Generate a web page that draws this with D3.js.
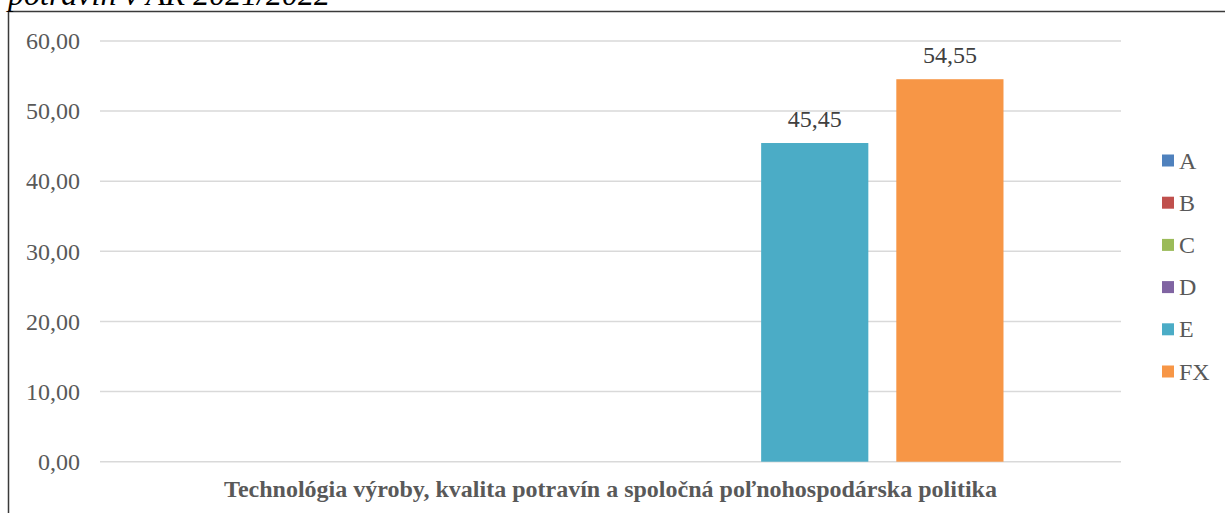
<!DOCTYPE html>
<html>
<head>
<meta charset="utf-8">
<script src="https://cdn.jsdelivr.net/npm/d3@7"></script>
<style>
  body { margin: 0; background: #fff; }
</style>
</head>
<body>
<div class="container"></div>
<script>
const w = 1225
const h = 513
const serif = "'Liberation Serif', 'Times New Roman', serif"

const categories = ["Technológia výroby, kvalita potravín a spoločná poľnohospodárska politika"]
const series = ["A", "B", "C", "D", "E", "FX"]
const values = [0, 0, 0, 0, 45.45, 54.55]
const colors = ["#4F81BD", "#C0504D", "#9BBB59", "#8064A2", "#4BACC6", "#F79646"]
const yTicks = [0, 10, 20, 30, 40, 50, 60]
const titleText = "potravín v AR 2021/2022"

const plot = { left: 100, right: 1121, top: 41, bottom: 461.7 }

const svg = d3.select(".container")
              .append("svg")
              .attr("width", w)
              .attr("height", h)

// frame of the chart area (only top and left edges are visible)
svg.append("path")
    .attr("d", `M8.5,${h} V11.5 H${w}`)
    .attr("fill", "none")
    .attr("stroke", "#3a3a3a")
    .attr("stroke-width", 1.5)

svg.append("text")
    .attr("x", 8)
    .attr("y", 5)
    .style("font-family", serif)
    .style("font-size", "32px")
    .style("font-style", "italic")
    .attr("fill", "#000")
    .text(titleText)

const yScale = d3.scaleLinear()
                .domain([0, 60])
                .range([plot.bottom, plot.top])

const x0 = d3.scaleBand()
            .domain(categories)
            .range([plot.left, plot.right])
            .paddingOuter(0.152)

const x1 = d3.scaleBand()
            .domain(series)
            .range([0, x0.bandwidth()])
            .paddingInner(0.207)

const fmt = v => d3.format(".2f")(v).replace(".", ",")

// gridlines
svg.append("g")
    .selectAll("line")
    .data(yTicks)
    .enter()
    .append("line")
      .attr("x1", plot.left)
      .attr("x2", plot.right)
      .attr("y1", d => yScale(d))
      .attr("y2", d => yScale(d))
      .attr("stroke", "#d9d9d9")
      .attr("stroke-width", 1.5)

const yAxis = d3.axisLeft(yScale)
                .tickValues(yTicks)
                .tickFormat(fmt)
                .tickSize(0)
                .tickPadding(20)

svg.append("g")
    .attr("id", "y-axis")
    .attr("transform", `translate(${plot.left}, 0)`)
    .call(yAxis)
    .call(g => g.select(".domain").remove())
    .selectAll("text")
      .style("font-family", serif)
      .style("font-size", "24px")
      .attr("fill", "#595959")

const xAxis = d3.axisBottom(x0).tickSize(0).tickPadding(18)

svg.append("g")
    .attr("id", "x-axis")
    .attr("transform", `translate(0, ${plot.bottom})`)
    .call(xAxis)
    .call(g => g.select(".domain").remove())
    .selectAll("text")
      .style("font-family", serif)
      .style("font-size", "24px")
      .style("font-weight", "bold")
      .attr("fill", "#595959")

const group = svg.append("g")
    .attr("transform", `translate(${x0(categories[0]) + 1.5}, 0)`)

group.selectAll("rect")
    .data(series)
    .enter()
    .append("rect")
      .attr("x", d => x1(d))
      .attr("y", (d, i) => yScale(values[i]))
      .attr("width", x1.bandwidth())
      .attr("height", (d, i) => yScale(0) - yScale(values[i]))
      .attr("fill", (d, i) => colors[i])

group.selectAll(".label")
    .data(series.filter((d, i) => values[i] > 0))
    .enter()
    .append("text")
      .attr("class", "label")
      .attr("x", d => x1(d) + x1.bandwidth() / 2)
      .attr("y", d => yScale(values[series.indexOf(d)]) - 16.5)
      .attr("text-anchor", "middle")
      .style("font-family", serif)
      .style("font-size", "24px")
      .attr("fill", "#404040")
      .text(d => fmt(values[series.indexOf(d)]))

const legend = svg.append("g")
    .attr("transform", "translate(1162, 160.5)")

const item = legend.selectAll("g")
    .data(series)
    .enter()
    .append("g")
      .attr("transform", (d, i) => `translate(0, ${i * 42.2})`)

item.append("rect")
    .attr("x", 0)
    .attr("y", -6)
    .attr("width", 12)
    .attr("height", 12)
    .attr("fill", (d, i) => colors[i])

item.append("text")
    .attr("x", 17)
    .attr("y", 8)
    .style("font-family", serif)
    .style("font-size", "24px")
    .attr("fill", "#595959")
    .text(d => d)
</script>
</body>
</html>
